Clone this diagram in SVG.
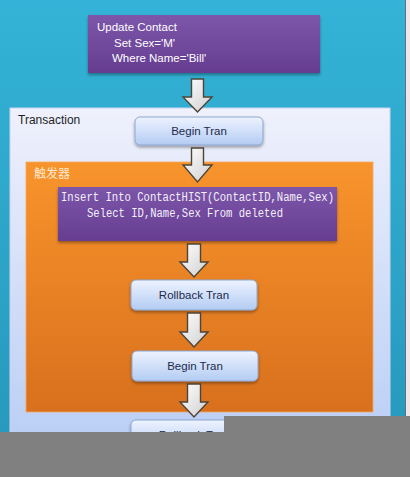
<svg xmlns="http://www.w3.org/2000/svg" width="410" height="477" viewBox="0 0 410 477">
<defs>
<linearGradient id="gBg" x1="0" y1="0" x2="0" y2="1"><stop offset="0" stop-color="#33b3d7"/><stop offset="1" stop-color="#2797bb"/></linearGradient>
<linearGradient id="gTx" x1="0" y1="0" x2="0" y2="1"><stop offset="0" stop-color="#eff1fc"/><stop offset="1" stop-color="#b9cef5"/></linearGradient>
<linearGradient id="gOr" x1="0" y1="0" x2="0" y2="1"><stop offset="0" stop-color="#f8942c"/><stop offset="1" stop-color="#d8701d"/></linearGradient>
<linearGradient id="gPu" x1="0" y1="0" x2="0" y2="1"><stop offset="0" stop-color="#7c56aa"/><stop offset="1" stop-color="#663d90"/></linearGradient>
<linearGradient id="gBt" x1="0" y1="0" x2="0" y2="1"><stop offset="0" stop-color="#eef3ff"/><stop offset="1" stop-color="#b3ccf3"/></linearGradient>
<linearGradient id="gAr" x1="0" y1="0" x2="1" y2="1"><stop offset="0" stop-color="#ffffff"/><stop offset="1" stop-color="#cfcfcf"/></linearGradient>
<filter id="sh" x="-10%" y="-20%" width="120%" height="150%"><feDropShadow dx="0" dy="2" stdDeviation="1.5" flood-color="#000" flood-opacity="0.35"/></filter>
</defs>
<style>
.pu{fill:url(#gPu);filter:url(#sh)}
.bt{fill:url(#gBt);stroke:#8ea6cf;stroke-width:1;filter:url(#sh)}
.ar{fill:url(#gAr);stroke:#4e4438;stroke-width:1.4;stroke-linejoin:miter}
.wt{font-family:"Liberation Sans",Arial,sans-serif;font-size:11.5px;fill:#ffffff}
.bl{font-family:"Liberation Sans",Arial,sans-serif;font-size:11.5px;fill:#1d2b4a}
.tx{font-family:"Liberation Sans",Arial,sans-serif;font-size:12px;fill:#1e1e1e}
.mo{font-family:"Liberation Mono","Courier New",monospace;font-size:12.5px;fill:#f4f0fa}
</style>
<rect x="0" y="0" width="410" height="477" fill="url(#gBg)"/>
<rect x="406" y="0" width="4" height="477" fill="#f1e6ee"/>
<line x1="405.5" y1="0" x2="405.5" y2="477" stroke="#5f7080" stroke-width="1"/>

<g id="update">
<rect class="pu" x="88" y="15" width="232" height="58"/>
<text class="wt" x="97" y="31">Update Contact</text>
<text class="wt" x="114" y="47">Set Sex='M'</text>
<text class="wt" x="112" y="62">Where Name='Bill'</text>
</g>

<g id="transaction">
<rect x="10" y="108" width="380" height="340" fill="url(#gTx)" stroke="#c9d3f0" stroke-width="1"/>
<text class="tx" x="18" y="124">Transaction</text>
</g>

<g id="begin1">
<rect class="bt" x="135" y="117" width="128" height="28" rx="5"/>
<text class="bl" x="199" y="135">
<tspan text-anchor="middle">Begin Tran</tspan></text>
</g>

<g id="trigger">
<rect x="26" y="162" width="347" height="250" fill="url(#gOr)" stroke="#f4a860" stroke-width="0.8"/>
<text x="34" y="178" font-family="'Noto Sans CJK SC',sans-serif" font-size="12" fill="#ffe9d2">触发器</text>
</g>

<g id="insert">
<rect class="pu" x="58" y="187" width="279" height="54"/>
<text class="mo" x="61" y="201" textLength="273" lengthAdjust="spacingAndGlyphs">Insert Into ContactHIST(ContactID,Name,Sex)</text>
<text class="mo" x="87" y="217" textLength="196" lengthAdjust="spacingAndGlyphs">Select ID,Name,Sex From deleted</text>
</g>

<g id="rollback1">
<rect class="bt" x="131" y="280" width="126" height="30" rx="5"/>
<text class="bl" x="194" y="299" text-anchor="middle">Rollback Tran</text>
</g>

<g id="begin2">
<rect class="bt" x="132" y="351" width="126" height="30" rx="5"/>
<text class="bl" x="195" y="370" text-anchor="middle">Begin Tran</text>
</g>

<g id="rollback2">
<rect class="bt" x="131" y="420" width="126" height="30" rx="5"/>
<text class="bl" x="194" y="439" text-anchor="middle">Rollback Tran</text>
</g>

<g id="connectors">
<path class="ar" d="M191.5,79 H203.5 V97 H212 L197.5,112 L183,97 H191.5 Z"/>
<path class="ar" d="M191.5,148 H203.5 V165 H212 L197.5,182 L183,165 H191.5 Z"/>
<path class="ar" d="M187.5,244 H200.5 V262 H208 L194,277 L180,262 H187.5 Z"/>
<path class="ar" d="M187.5,313 H200.5 V332 H208 L194,347 L180,332 H187.5 Z"/>
<path class="ar" d="M187.5,384 H200.5 V402 H208 L194,417 L180,402 H187.5 Z"/>
</g>

<rect x="224" y="416" width="186" height="17" fill="#808080"/>
<rect x="0" y="432" width="410" height="45" fill="#808080"/>
</svg>
